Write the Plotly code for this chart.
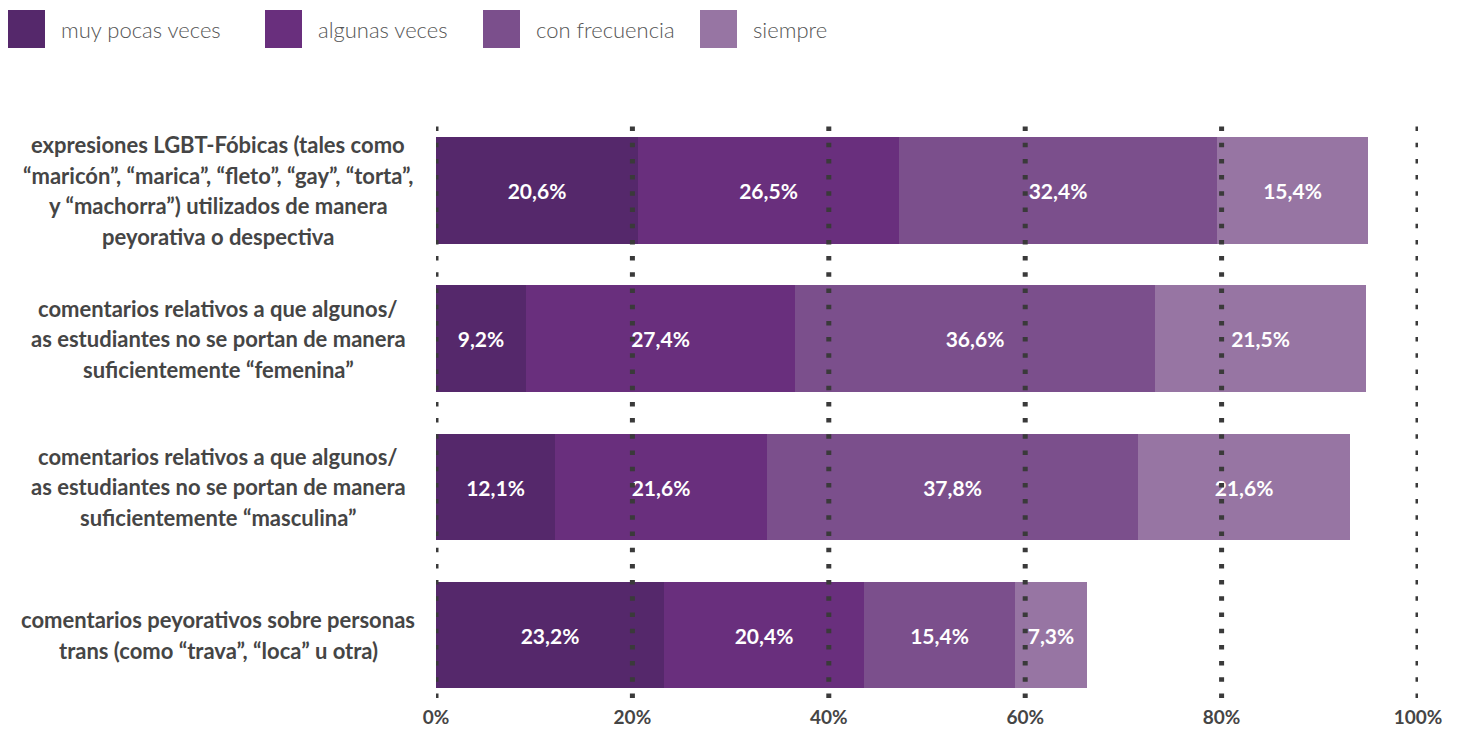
import plotly.graph_objects as go

# ---------------- data ----------------
categories = [
    "expresiones LGBT-Fóbicas",
    "comentarios femenina",
    "comentarios masculina",
    "comentarios trans",
]
category_lines = [
    ["expresiones LGBT-Fóbicas (tales como",
     "“maricón”, “marica”, “fleto”, “gay”, “torta”,",
     "y “machorra”) utilizados de manera",
     "peyorativa o despectiva"],
    ["comentarios relativos a que algunos/",
     "as estudiantes no se portan de manera",
     "suficientemente “femenina”"],
    ["comentarios relativos a que algunos/",
     "as estudiantes no se portan de manera",
     "suficientemente “masculina”"],
    ["comentarios peyorativos sobre personas",
     "trans (como “trava”, “loca” u otra)"],
]
series_names = ["muy pocas veces", "algunas veces", "con frecuencia", "siempre"]
muy_pocas = [20.6, 9.2, 12.1, 23.2]
algunas = [26.5, 27.4, 21.6, 20.4]
frecuencia = [32.4, 36.6, 37.8, 15.4]
siempre = [15.4, 21.5, 21.6, 7.3]
tick_values = [0, 20, 40, 60, 80, 100]
tick_labels = ["0%", "20%", "40%", "60%", "80%", "100%"]

# ---------------- style ----------------
colors = ["#55286B", "#692F7D", "#7B4F8C", "#9775A3"]
FONT = "Lato"
OFF = 8  # page body margin
W, H = 1465 - OFF, 732 - OFF
# plot area in screen pixels
SX0, SX1, SY0, SY1 = 436, 1418, 121, 698
L, T = SX0 - OFF, SY0 - OFF
R, B = W - (SX1 - OFF), H - (SY1 - OFF)
PW, PH = SX1 - SX0, SY1 - SY0


def px_x(px):
    return (px - SX0) / PW


def px_y(py):
    return (SY1 - py) / PH


fig = go.Figure()
for name, vals, col in zip(series_names, [muy_pocas, algunas, frecuencia, siempre], colors):
    fig.add_trace(go.Bar(
        y=categories, x=vals, name=name, orientation="h",
        marker=dict(color=col, line=dict(width=0)),
        width=0.72,
        texttemplate="%{x:.1f}%", textposition="inside",
        insidetextanchor="middle",
        textfont=dict(family=FONT, size=21, color="white", weight="bold"),
        showlegend=False, hoverinfo="skip",
    ))

# dotted gridlines drawn above bars
for tv in tick_values:
    fig.add_shape(type="line", xref="x", yref="paper", x0=tv, x1=tv, y0=0, y1=1,
                  line=dict(color="#3a3a3a", width=5, dash="4.5px,11.7px"),
                  layer="above")

# category labels (centered multi-line)
LINE_H = 30.5
for cat, lines in zip(categories, category_lines):
    n = len(lines)
    for i, ln in enumerate(lines):
        fig.add_annotation(
            x=px_x(218), xref="paper", y=cat, yref="y",
            text=ln, showarrow=False, xanchor="center", yanchor="middle",
            yshift=((n - 1) / 2 - i) * LINE_H,
            font=dict(family=FONT, size=22, color="#454545", weight="bold"),
        )

# manual legend with large squares
legend_sq_x = [8, 265, 483, 700]
for name, col, sx in zip(series_names, colors, legend_sq_x):
    fig.add_shape(type="rect", xref="paper", yref="paper",
                  x0=px_x(sx), x1=px_x(sx + 37), y0=px_y(48), y1=px_y(10),
                  fillcolor=col, line=dict(width=0), layer="above")
    fig.add_annotation(x=px_x(sx + 51), xref="paper", y=px_y(29), yref="paper",
                       text=name, showarrow=False, xanchor="left", yanchor="middle",
                       font=dict(family=FONT, size=22, color="#555555", weight=300))

fig.update_layout(
    barmode="stack",
    width=W, height=H,
    margin=dict(l=L, r=R, t=T, b=B, pad=0),
    paper_bgcolor="white", plot_bgcolor="white",
    separators=",.",
    showlegend=False,
    bargap=0,
    xaxis=dict(range=[0, 100], tickmode="array", tickvals=tick_values, ticktext=tick_labels,
               showgrid=False, zeroline=False, showline=False, automargin=False,
               ticks="", ticklabelstandoff=6,
               tickfont=dict(family=FONT, size=19, color="#454545", weight="bold"),
               fixedrange=True),
    yaxis=dict(type="category", range=[3.425, -0.47], showticklabels=False,
               showgrid=False, zeroline=False, showline=False, ticks="",
               automargin=False, fixedrange=True),
)

fig.write_html("out.html")
